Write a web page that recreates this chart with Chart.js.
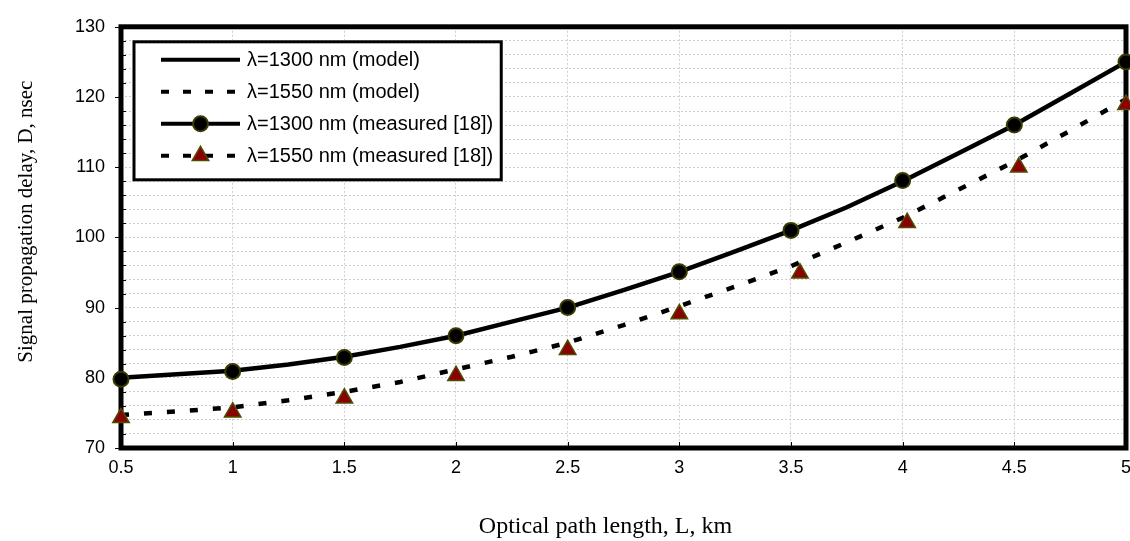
<!DOCTYPE html>
<html>
<head>
<meta charset="utf-8">
<title>Signal propagation delay vs optical path length</title>
<script src="https://cdn.jsdelivr.net/npm/chart.js@4.4.1/dist/chart.umd.min.js"></script>
<style>
    html, body { margin: 0; padding: 0; background: #fff; overflow: hidden; }
    /* a bit wider than the window so the last x label is cut like in the original */
    #wrap { position: relative; width: 1140px; height: 541px; }
</style>
</head>
<body>
<div id="wrap"><canvas id="chart"></canvas></div>
<script>
// model curves (km -> nsec)
const xModel = [0.5, 0.75, 1, 1.25, 1.5, 1.75, 2, 2.25, 2.5, 2.75, 3, 3.25, 3.5, 3.75, 4, 4.25, 4.5, 4.75, 5];
const delay1300Model = [80, 80.5, 81, 81.9, 83, 84.4, 86, 88, 90, 92.5, 95.1, 98, 101, 104.3, 108, 112, 116, 120.5, 125];
const delay1550Model = [74.7, 75.2, 75.8, 76.8, 78, 79.4, 81.2, 83, 85, 87.5, 90.2, 93, 95.9, 99.3, 102.8, 106.8, 110.8, 115.2, 119.7];

// measured points [18]
const x1300Measured = [0.5, 1, 1.5, 2, 2.5, 3, 3.5, 4, 4.5, 5];
const delay1300Measured = [79.8, 80.9, 82.9, 86, 90, 95.1, 101, 108.1, 116, 125];
const x1550Measured = [0.5, 1, 1.5, 2, 2.5, 3, 3.54, 4.02, 4.52, 5];
const delay1550Measured = [74.3, 75.1, 77.1, 80.3, 84.0, 89.1, 94.9, 102.1, 110.0, 118.9];

const seriesLabels = [
    'λ=1300 nm (model)',
    'λ=1550 nm (model)',
    'λ=1300 nm (measured [18])',
    'λ=1550 nm (measured [18])'
];
const xTitle = 'Optical path length, L, km';
const yTitle = 'Signal propagation delay, D, nsec';

const toPoints = (xs, ys) => xs.map((x, i) => ({ x: x, y: ys[i] }));

const DASH = [8, 15];

// thick box round the plot plus the small tick marks
const framePlugin = {
    id: 'frame',
    beforeDatasetsDraw(chart) {
        const { ctx, chartArea: a, scales } = chart;
        ctx.save();
        ctx.strokeStyle = '#000';
        ctx.lineWidth = 1;
        ctx.beginPath();
        scales.x.ticks.forEach(t => {
            const px = Math.round(scales.x.getPixelForValue(t.value)) + 0.5;
            ctx.moveTo(px, a.bottom);
            ctx.lineTo(px, a.bottom - 6);
        });
        scales.y.ticks.forEach(t => {
            const py = Math.round(scales.y.getPixelForValue(t.value)) + 0.5;
            if (t.value % 10 === 0) {
                ctx.moveTo(a.left - 6, py);
                ctx.lineTo(a.left, py);
            } else {
                ctx.moveTo(a.left, py);
                ctx.lineTo(a.left + 5, py);
            }
        });
        ctx.stroke();
        ctx.lineWidth = 5;
        ctx.strokeRect(a.left, a.top, a.right - a.left, a.bottom - a.top);
        ctx.restore();
    }
};

// boxed legend in the upper left of the plot
const boxLegendPlugin = {
    id: 'boxLegend',
    afterDatasetsDraw(chart) {
        const { ctx, chartArea: a } = chart;
        const left = a.left + 13;
        const top = a.top + 15;
        const rowH = 32;
        const sampleX0 = left + 27;
        const sampleX1 = left + 106;
        const textX = left + 113;

        ctx.save();
        ctx.font = '20px "Liberation Sans", Arial, sans-serif';
        let maxW = 0;
        seriesLabels.forEach(l => { maxW = Math.max(maxW, ctx.measureText(l).width); });
        const width = textX + maxW + 8 - left;
        const height = rowH * 4 + 10;

        ctx.fillStyle = '#fff';
        ctx.fillRect(left, top, width, height);
        ctx.strokeStyle = '#000';
        ctx.lineWidth = 3;
        ctx.strokeRect(left, top, width, height);

        chart.data.datasets.forEach((ds, i) => {
            const y = top + 18 + i * rowH;
            ctx.save();
            ctx.strokeStyle = '#000';
            ctx.lineWidth = 4;
            ctx.setLineDash(ds.legendDash || []);
            ctx.beginPath();
            ctx.moveTo(sampleX0, y);
            ctx.lineTo(sampleX1, y);
            ctx.stroke();
            ctx.restore();

            if (ds.pointRadius > 0) {
                ctx.save();
                ctx.fillStyle = ds.pointBackgroundColor;
                ctx.strokeStyle = ds.pointBorderColor;
                ctx.lineWidth = ds.pointBorderWidth;
                Chart.helpers.drawPoint(ctx, {
                    pointStyle: ds.pointStyle,
                    radius: ds.pointRadius,
                    rotation: 0,
                    borderWidth: ds.pointBorderWidth
                }, (sampleX0 + sampleX1) / 2, y);
                ctx.restore();
            }

            ctx.fillStyle = '#000';
            ctx.textBaseline = 'middle';
            ctx.textAlign = 'left';
            ctx.fillText(seriesLabels[i], textX, y + 1);
        });
        ctx.restore();
    }
};

const tickFont = { family: '"Liberation Sans", Arial, sans-serif', size: 18 };
const gridStyle = {
    color: '#cfcfcf',
    lineWidth: 1,
    drawTicks: false
};

new Chart(document.getElementById('chart'), {
    type: 'line',
    data: {
        datasets: [
            {
                label: seriesLabels[0],
                data: toPoints(xModel, delay1300Model),
                borderColor: '#000',
                borderWidth: 4.5,
                pointRadius: 0,
                tension: 0,
                clip: false,
                order: 2,
                legendDash: []
            },
            {
                label: seriesLabels[1],
                data: toPoints(xModel, delay1550Model),
                borderColor: '#000',
                borderWidth: 4.5,
                borderDash: DASH,
                pointRadius: 0,
                tension: 0,
                clip: false,
                order: 2,
                legendDash: [8, 14]
            },
            {
                label: seriesLabels[2],
                data: toPoints(x1300Measured, delay1300Measured),
                showLine: false,
                pointStyle: 'circle',
                pointRadius: 7.5,
                pointBackgroundColor: '#000',
                pointBorderColor: '#3b3b00',
                pointBorderWidth: 2,
                clip: false,
                order: 0,
                legendDash: []
            },
            {
                label: seriesLabels[3],
                data: toPoints(x1550Measured, delay1550Measured),
                showLine: false,
                pointStyle: 'triangle',
                pointRadius: 9.5,
                pointBackgroundColor: '#8b0000',
                pointBorderColor: '#4d4d00',
                pointBorderWidth: 1.5,
                clip: false,
                order: 0,
                legendDash: [8, 14]
            }
        ]
    },
    options: {
        responsive: true,
        maintainAspectRatio: false,
        animation: false,
        devicePixelRatio: 1,
        layout: {
            padding: { top: 24, right: 4, left: 0, bottom: 0 }
        },
        plugins: {
            legend: { display: false },
            tooltip: { enabled: false }
        },
        scales: {
            x: {
                type: 'linear',
                min: 0.5,
                max: 5,
                grid: gridStyle,
                border: { display: false, dash: [2, 2] },
                ticks: {
                    stepSize: 0.5,
                    autoSkip: false,
                    maxRotation: 0,
                    padding: 9,
                    color: '#000',
                    font: tickFont,
                    callback: v => String(v)
                },
                title: {
                    display: true,
                    // trailing spaces nudge the centred title a little to the left
                    text: xTitle + '\u00a0'.repeat(6),
                    color: '#000',
                    font: { family: '"Liberation Serif", "Times New Roman", serif', size: 24 },
                    padding: { top: 0, bottom: 0 }
                },
                afterFit(scale) {
                    scale.height = 93;
                }
            },
            y: {
                type: 'linear',
                min: 70,
                max: 130,
                grid: gridStyle,
                border: { display: false, dash: [2, 2] },
                ticks: {
                    stepSize: 2,
                    autoSkip: false,
                    padding: 16,
                    color: '#000',
                    font: tickFont,
                    callback: v => (v % 10 === 0 ? v : '')
                },
                title: {
                    display: true,
                    text: '\u00a0'.repeat(6) + yTitle,
                    color: '#000',
                    font: { family: '"Liberation Serif", "Times New Roman", serif', size: 21 },
                    padding: { top: 14, bottom: 0 }
                },
                afterFit(scale) {
                    scale.width = 121;
                }
            }
        }
    },
    plugins: [framePlugin, boxLegendPlugin]
});
</script>
</body>
</html>
